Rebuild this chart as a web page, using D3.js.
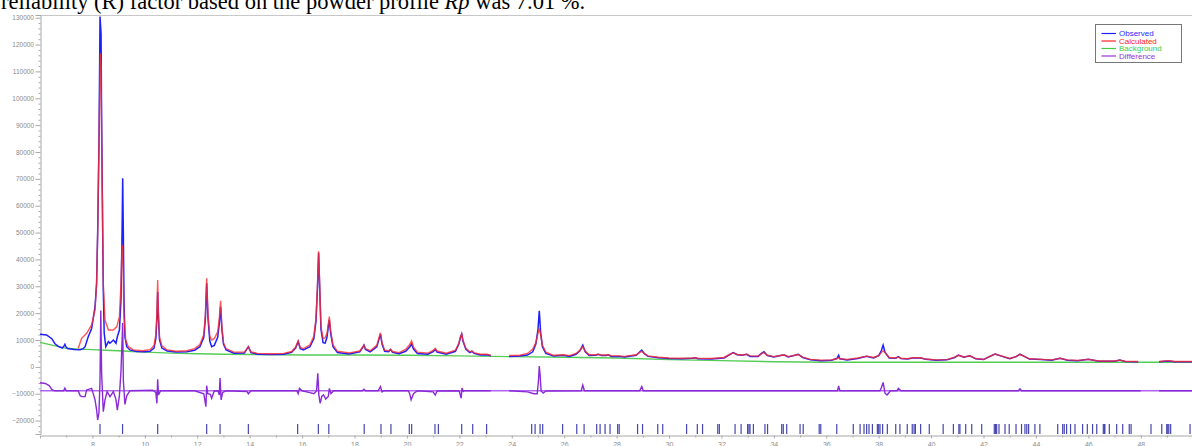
<!DOCTYPE html>
<html><head><meta charset="utf-8">
<script src="https://cdn.jsdelivr.net/npm/d3@7/dist/d3.min.js"></script>
<style>body{margin:0;background:#fff}svg{display:block}</style>
</head><body>
<svg id="c" width="1192" height="446"></svg>
<script>
// ---- data (2θ in degrees, intensity in counts) ----
const xTicks = [8,10,12,14,16,18,20,22,24,26,28,30,32,34,36,38,40,42,44,46,48];
const yTicks = [-20000,-10000,0,10000,20000,30000,40000,50000,60000,70000,80000,90000,100000,110000,120000,130000];
const diffOffset = -8900;

const background = [[6,9100],[6.5,8000],[7,6900],[7.5,6600],[8,6400],[8.5,6200],[9,6000],[9.5,5700],[10,5500],[10.5,5300],[11,5100],[12,4900],[13,4700],[14,4600],[15,4500],[16,4400],[18,4400],[20,4300],[22,4100],[24,3800],[26,3550],[28,3300],[30,2700],[32,2300],[34,1900],[36,1700],[40,1700],[50,1700]];

const observed = [[6.00,12100],[6.25,11900],[6.45,10500],[6.57,8600],[6.70,7600],[6.85,7000],[6.92,7800],[6.95,8400],[6.98,7600],[7.05,6800],[7.3,6500],[7.53,6400],[7.65,6800],[7.72,7500],[7.84,11200],[7.97,14300],[8.03,18000],[8.10,22400],[8.16,31100],[8.20,49800],[8.25,83300],[8.29,130400],[8.33,124000],[8.35,93100],[8.38,62000],[8.415,28600],[8.45,12500],[8.51,7500],[8.61,9400],[8.67,8800],[8.80,10000],[8.90,8800],[8.95,11200],[9.03,13700],[9.09,24900],[9.13,49700],[9.155,70200],[9.18,49700],[9.205,24900],[9.24,11200],[9.31,7500],[9.43,6300],[9.69,5700],[10.0,5600],[10.2,5800],[10.35,7000],[10.42,10500],[10.46,18000],[10.49,28000],[10.52,18000],[10.56,10000],[10.65,7000],[10.85,5900],[11.2,5500],[11.6,5600],[11.9,6200],[12.1,7500],[12.25,11000],[12.31,18000],[12.36,31100],[12.41,18000],[12.48,9500],[12.55,7500],[12.65,8000],[12.78,11000],[12.84,16000],[12.89,22400],[12.94,14000],[13.0,8500],[13.1,6300],[13.4,5100],[13.8,5200],[13.95,7500],[14.05,5300],[14.3,4700],[14.8,4600],[15.3,4700],[15.6,5400],[15.75,7000],[15.85,9400],[15.93,6800],[16.05,6300],[16.3,7500],[16.45,10500],[16.53,17000],[16.59,30000],[16.63,42500],[16.67,30000],[16.72,14000],[16.80,9000],[16.88,8800],[16.95,11000],[17.0,15000],[17.04,17500],[17.09,12500],[17.18,7500],[17.35,5300],[17.8,4800],[18.2,5600],[18.30,7000],[18.36,8100],[18.42,6500],[18.6,5600],[18.85,7500],[18.94,10500],[18.99,12200],[19.05,8500],[19.15,5800],[19.3,5600],[19.38,6500],[19.45,5400],[19.7,4900],[19.95,5800],[20.1,7300],[20.18,8500],[20.25,6600],[20.4,5000],[20.8,4700],[21.0,5700],[21.08,6500],[21.15,5500],[21.5,4700],[21.85,5800],[21.98,8500],[22.05,11200],[22.09,12200],[22.14,9500],[22.25,6500],[22.4,5300],[22.48,5800],[22.56,5000],[22.8,4400],[23.04,4500],[23.2,4100],[23.5,null],[23.9,3900],[24.3,4000],[24.6,4400],[24.8,5600],[24.92,8500],[25.0,14000],[25.05,20900],[25.1,13000],[25.17,7500],[25.3,5000],[25.6,4000],[25.97,4300],[26.2,3900],[26.45,4700],[26.6,6000],[26.71,8100],[26.8,5700],[26.95,4200],[27.2,4300],[27.3,4700],[27.42,4200],[27.6,4200],[27.68,4500],[27.8,3900],[28.1,3900],[28.3,3700],[28.75,4300],[28.9,5700],[28.96,6200],[29.05,5000],[29.2,3900],[29.6,3400],[30.0,3100],[30.5,3000],[30.9,3200],[30.99,3400],[31.1,3000],[31.6,2900],[32.1,3300],[32.35,4700],[32.45,5300],[32.6,4500],[32.8,4300],[32.96,4700],[33.1,3900],[33.4,3900],[33.55,5200],[33.62,5600],[33.75,4200],[34.0,3700],[34.3,4300],[34.4,4400],[34.55,3700],[34.8,4300],[34.93,4700],[35.1,3500],[35.4,2600],[35.8,2300],[36.2,2500],[36.4,3100],[36.47,4300],[36.52,3000],[36.8,2600],[37.2,3100],[37.54,3900],[37.8,3300],[38.0,4200],[38.1,6000],[38.17,8100],[38.24,5500],[38.4,3300],[38.65,3200],[38.75,3800],[38.85,3100],[39.1,2900],[39.3,3300],[39.6,3300],[39.8,2800],[40.2,2500],[40.6,2600],[40.9,3500],[41.04,4400],[41.25,3600],[41.48,4100],[41.7,3000],[42.0,2700],[42.25,3900],[42.44,4800],[42.65,4100],[43.0,3000],[43.25,3800],[43.39,4700],[43.5,4200],[43.75,2900],[44.2,2700],[44.6,2500],[44.92,3200],[45.2,2500],[45.6,2300],[46.0,2800],[46.4,2100],[47.0,2100],[47.2,2500],[47.4,2000],[47.9,1900],[48.3,null],[48.7,1900],[49.05,2200],[49.3,1900],[49.6,1900],[50.0,1900]];

const calculated = [[7.46,6900],[7.53,9000],[7.59,10600],[7.78,12500],[7.97,15600],[8.10,21200],[8.16,31100],[8.20,49800],[8.25,83300],[8.30,116700],[8.33,111700],[8.35,86900],[8.38,62000],[8.415,31000],[8.48,17400],[8.61,13700],[8.80,13700],[8.93,15000],[9.03,18700],[9.09,31000],[9.13,44700],[9.15,45400],[9.17,37300],[9.205,18700],[9.27,10000],[9.37,7500],[9.56,6300],[9.9,6000],[10.2,6400],[10.35,8000],[10.42,12000],[10.46,20000],[10.49,32300],[10.52,20000],[10.56,11000],[10.65,7800],[10.85,6300],[11.2,5800],[11.6,6000],[11.9,6800],[12.1,8300],[12.25,12000],[12.31,19500],[12.36,33000],[12.41,19500],[12.48,11500],[12.55,10000],[12.65,10500],[12.78,13000],[12.84,18000],[12.89,24600],[12.94,15000],[13.0,9000],[13.1,6800],[13.4,5500],[13.8,5500],[13.95,7500],[14.05,5600],[14.3,5000],[14.8,4900],[15.3,5000],[15.6,5700],[15.75,7300],[15.85,9700],[15.93,7200],[16.05,6800],[16.3,8200],[16.45,11500],[16.53,18000],[16.59,31000],[16.63,43000],[16.67,31000],[16.72,15000],[16.80,10600],[16.88,10800],[16.95,12500],[17.0,16000],[17.04,18700],[17.09,13500],[17.18,8200],[17.35,5800],[17.8,5200],[18.2,5900],[18.30,7200],[18.36,8100],[18.42,6800],[18.6,6000],[18.85,8000],[18.94,11000],[18.99,12700],[19.05,9000],[19.15,6200],[19.3,6000],[19.38,6500],[19.45,5700],[19.7,5300],[19.95,6500],[20.1,8200],[20.18,9700],[20.25,7400],[20.4,5500],[20.8,5100],[21.0,6100],[21.08,6900],[21.15,5900],[21.5,5100],[21.85,6200],[21.98,8800],[22.05,11500],[22.09,12200],[22.14,9800],[22.25,6900],[22.4,5600],[22.48,5900],[22.56,5300],[22.8,4700],[23.04,4700],[23.2,4300],[23.5,null],[23.9,4200],[24.3,4300],[24.6,5000],[24.8,6600],[24.92,9000],[25.0,12500],[25.05,14300],[25.1,12000],[25.17,8000],[25.3,5500],[25.6,4300],[25.97,4500],[26.2,4200],[26.45,5000],[26.6,6200],[26.71,7500],[26.8,5900],[26.95,4500],[27.2,4500],[27.3,4700],[27.42,4400],[27.6,4400],[27.68,4500],[27.8,4100],[28.1,4100],[28.3,3900],[28.75,4500],[28.9,5500],[28.96,5800],[29.05,5000],[29.2,4100],[29.6,3600],[30.0,3300],[30.5,3200],[30.9,3300],[30.99,3400],[31.1,3200],[31.6,3100],[32.1,3500],[32.35,4800],[32.45,5200],[32.6,4600],[32.8,4400],[32.96,4700],[33.1,4100],[33.4,4000],[33.55,5000],[33.62,5300],[33.75,4300],[34.0,3800],[34.3,4300],[34.4,4400],[34.55,3800],[34.8,4300],[34.93,4600],[35.1,3600],[35.4,2800],[35.8,2500],[36.2,2600],[36.4,3000],[36.47,3400],[36.52,3000],[36.8,2800],[37.2,3300],[37.54,4000],[37.8,3500],[38.0,4200],[38.1,5300],[38.17,6000],[38.24,5300],[38.4,3500],[38.65,3300],[38.75,3600],[38.85,3200],[39.1,3000],[39.3,3400],[39.6,3400],[39.8,2900],[40.2,2600],[40.6,2700],[40.9,3600],[41.04,4300],[41.25,3700],[41.48,4100],[41.7,3100],[42.0,2800],[42.25,4000],[42.44,4800],[42.65,4200],[43.0,3100],[43.25,3900],[43.39,4600],[43.5,4200],[43.75,3000],[44.2,2800],[44.6,2600],[44.92,3200],[45.2,2600],[45.6,2400],[46.0,2800],[46.4,2200],[47.0,2200],[47.2,2500],[47.4,2100],[47.9,2000],[48.3,null],[48.7,2000],[49.05,2300],[49.3,2000],[49.6,2000],[50.0,2000]];

const difference = [[6.0,-5900],[6.2,-6200],[6.35,-7000],[6.45,-8400],[6.55,-8900],[6.9,-8900],[6.95,-7900],[7.0,-8900],[7.46,-8900],[7.53,-10700],[7.59,-11100],[7.72,-11100],[7.78,-8600],[7.97,-8000],[8.10,-12300],[8.16,-16000],[8.20,-19800],[8.25,-17000],[8.29,-5000],[8.32,21000],[8.35,-2000],[8.38,-8900],[8.415,-16700],[8.48,-12300],[8.56,-9200],[8.67,-11100],[8.80,-9200],[8.90,-12300],[8.95,-16100],[9.03,-10700],[9.09,-1500],[9.155,16300],[9.18,-5000],[9.24,-14000],[9.31,-10800],[9.43,-8900],[10.3,-8700],[10.42,-9500],[10.46,-13600],[10.49,-4600],[10.52,-10500],[10.6,-8900],[11.9,-8900],[12.25,-10000],[12.33,-14800],[12.36,-7000],[12.40,-10000],[12.5,-10200],[12.55,-11700],[12.65,-8900],[12.8,-9000],[12.84,-10500],[12.87,-4200],[12.91,-12300],[12.97,-9500],[13.1,-8900],[13.9,-9200],[13.95,-10000],[14.05,-8900],[15.8,-8900],[15.85,-10000],[15.9,-8000],[16.0,-8900],[16.3,-9600],[16.45,-10000],[16.55,-9000],[16.60,-2400],[16.64,-10500],[16.69,-13600],[16.75,-11000],[16.82,-10400],[16.9,-12000],[17.0,-11000],[17.04,-8000],[17.1,-10000],[17.2,-8900],[18.3,-8900],[18.36,-8300],[18.42,-8900],[18.9,-8900],[18.99,-7300],[19.05,-9300],[19.12,-8900],[20.05,-8900],[20.1,-9800],[20.16,-12300],[20.25,-10000],[20.4,-8900],[21.0,-9300],[21.08,-10500],[21.15,-9000],[21.95,-8900],[22.0,-9200],[22.07,-11700],[22.1,-7900],[22.15,-9200],[22.2,-8900],[23.2,-8900],[23.5,null],[23.9,-8900],[24.6,-9300],[24.85,-10000],[24.97,-10000],[25.02,-5000],[25.05,300],[25.08,-3000],[25.12,-9000],[25.2,-9800],[25.3,-9000],[26.65,-8900],[26.71,-6800],[26.77,-8900],[28.88,-8900],[28.96,-7300],[29.02,-8900],[36.43,-8900],[36.47,-7100],[36.52,-8900],[38.05,-8900],[38.1,-7800],[38.17,-5800],[38.24,-9800],[38.32,-10500],[38.45,-8900],[38.7,-8900],[38.75,-8000],[38.85,-8900],[43.33,-8900],[43.39,-8200],[43.45,-8900],[48.0,-8900],[48.3,null],[48.7,-8900],[50,-8900]];

const reflections = [8.29,9.15,10.49,12.36,12.87,13.95,15.83,16.62,17.02,18.37,19.01,19.39,20.09,20.18,21.07,21.20,22.09,22.51,23.04,24.76,24.89,25.08,25.18,25.94,26.48,26.76,27.24,27.37,27.56,27.75,28.04,28.10,28.80,28.99,29.57,29.76,30.67,31.08,31.28,31.86,31.92,32.52,32.75,33.00,33.05,33.09,33.22,33.66,33.76,34.30,34.36,34.49,35.00,35.12,35.73,35.79,36.40,37.03,37.29,37.44,37.54,37.63,37.76,37.95,38.00,38.05,38.15,38.33,38.65,38.81,39.09,39.28,39.35,39.40,39.60,39.93,40.46,40.85,41.06,41.10,41.32,41.55,41.93,42.41,42.46,42.50,42.59,42.82,42.98,43.24,43.45,43.58,43.65,43.72,43.96,44.15,44.83,45.02,45.08,45.17,45.32,45.49,45.78,45.96,46.16,46.32,46.57,46.61,46.63,46.80,47.08,47.31,47.56,47.63,48.39,48.80,48.99,49.03,49.07,49.14,49.88];

const legendItems = [["Observed","#1f1fff"],["Calculated","#ff2020"],["Background","#44cc44"],["Difference","#9a2fd8"]];

// ---- drawing ----
const svg = d3.select("#c");
const x = d3.scaleLinear().domain([6,50]).range([40,1193.2]);
const y = d3.scaleLinear().domain([-25000,131000]).range([434,15]);

svg.append("text").attr("x",1).attr("y",9)
  .attr("font-family","'Liberation Serif','Times New Roman',serif").attr("font-size",22.5).attr("fill","#000")
  .html('reliability (R) factor based on the powder profile <tspan font-style="italic">Rp</tspan> was 7.01 %.');

svg.append("line").attr("x1",40).attr("x2",1192).attr("y1",15.5).attr("y2",15.5).attr("stroke","#c8c8c8");

// y axis
const yAxis = d3.axisLeft(y).tickValues(yTicks).tickSize(5).tickPadding(1.5).tickFormat(d3.format("d"));
const ga = svg.append("g").attr("transform","translate(40.5,0)").call(yAxis);
ga.select(".domain").attr("stroke","#a8a8a8");
ga.selectAll(".tick line").attr("stroke","#a8a8a8");
ga.selectAll("text").attr("font-family","'Liberation Sans',Arial,sans-serif").attr("font-size",6.5).attr("fill","#8a8a8a");
const yMinor = d3.range(-24000,131000,2000).filter(v=>v%10000!==0);
svg.append("g").attr("transform","translate(40.5,0)").call(d3.axisLeft(y).tickValues(yMinor).tickSize(2).tickFormat(""))
  .call(g=>{g.select(".domain").remove();g.selectAll("line").attr("stroke","#a8a8a8");});

// x axis
const xAxis = d3.axisBottom(x).tickValues(xTicks).tickSize(3).tickPadding(4).tickFormat(d3.format("d"));
const gx = svg.append("g").attr("transform","translate(0,435.5)").call(xAxis);
gx.select(".domain").attr("stroke","#a8a8a8");
gx.selectAll(".tick line").attr("stroke","#a8a8a8");
gx.selectAll("text").attr("font-family","'Liberation Sans',Arial,sans-serif").attr("font-size",7).attr("fill","#8a8a8a");
svg.append("g").attr("transform","translate(0,435.5)").call(d3.axisBottom(x).tickValues(d3.range(7,50,2)).tickSize(2).tickFormat(""))
  .call(g=>{g.select(".domain").remove();g.selectAll("line").attr("stroke","#a8a8a8");});

// reflection markers
svg.append("g").selectAll("line").data(reflections).join("line")
  .attr("x1",d=>x(d)).attr("x2",d=>x(d)).attr("y1",424).attr("y2",434)
  .attr("stroke","#4646b0").attr("stroke-width",1.2);

const line = d3.line().defined(d=>d[1]!==null).x(d=>x(d[0])).y(d=>y(d[1]));

// difference baseline
svg.append("line").attr("x1",40).attr("x2",1192).attr("y1",y(diffOffset)).attr("y2",y(diffOffset))
  .attr("stroke","#b266ee").attr("stroke-width",1.6);

svg.append("path").datum(background).attr("d",line).attr("fill","none").attr("stroke","#55cc55").attr("stroke-width",1.4);
svg.append("path").datum(observed).attr("d",line).attr("fill","none").attr("stroke","#1f1fff").attr("stroke-width",1.5);
svg.append("path").datum(calculated).attr("d",line).attr("fill","none").attr("stroke","#ff2a2a").attr("stroke-width",1.4).attr("stroke-opacity",0.8);
svg.append("path").datum(difference).attr("d",line).attr("fill","none").attr("stroke","#8a2ad6").attr("stroke-width",1.4);

// legend
const lg = svg.append("g");
lg.append("rect").attr("x",1095.5).attr("y",24.5).attr("width",86).attr("height",38).attr("fill","#fff").attr("stroke","#777");
legendItems.forEach((it,i)=>{
  const yy = 33.5 + i*7.5;
  lg.append("line").attr("x1",1101.5).attr("x2",1116).attr("y1",yy).attr("y2",yy).attr("stroke",it[1]).attr("stroke-width",1.2);
  lg.append("text").attr("x",1119).attr("y",yy).attr("dy","0.35em").attr("font-family","'Liberation Sans',Arial,sans-serif")
    .attr("font-size",8).attr("fill",it[1]).text(it[0]);
});
</script>
</body></html>
